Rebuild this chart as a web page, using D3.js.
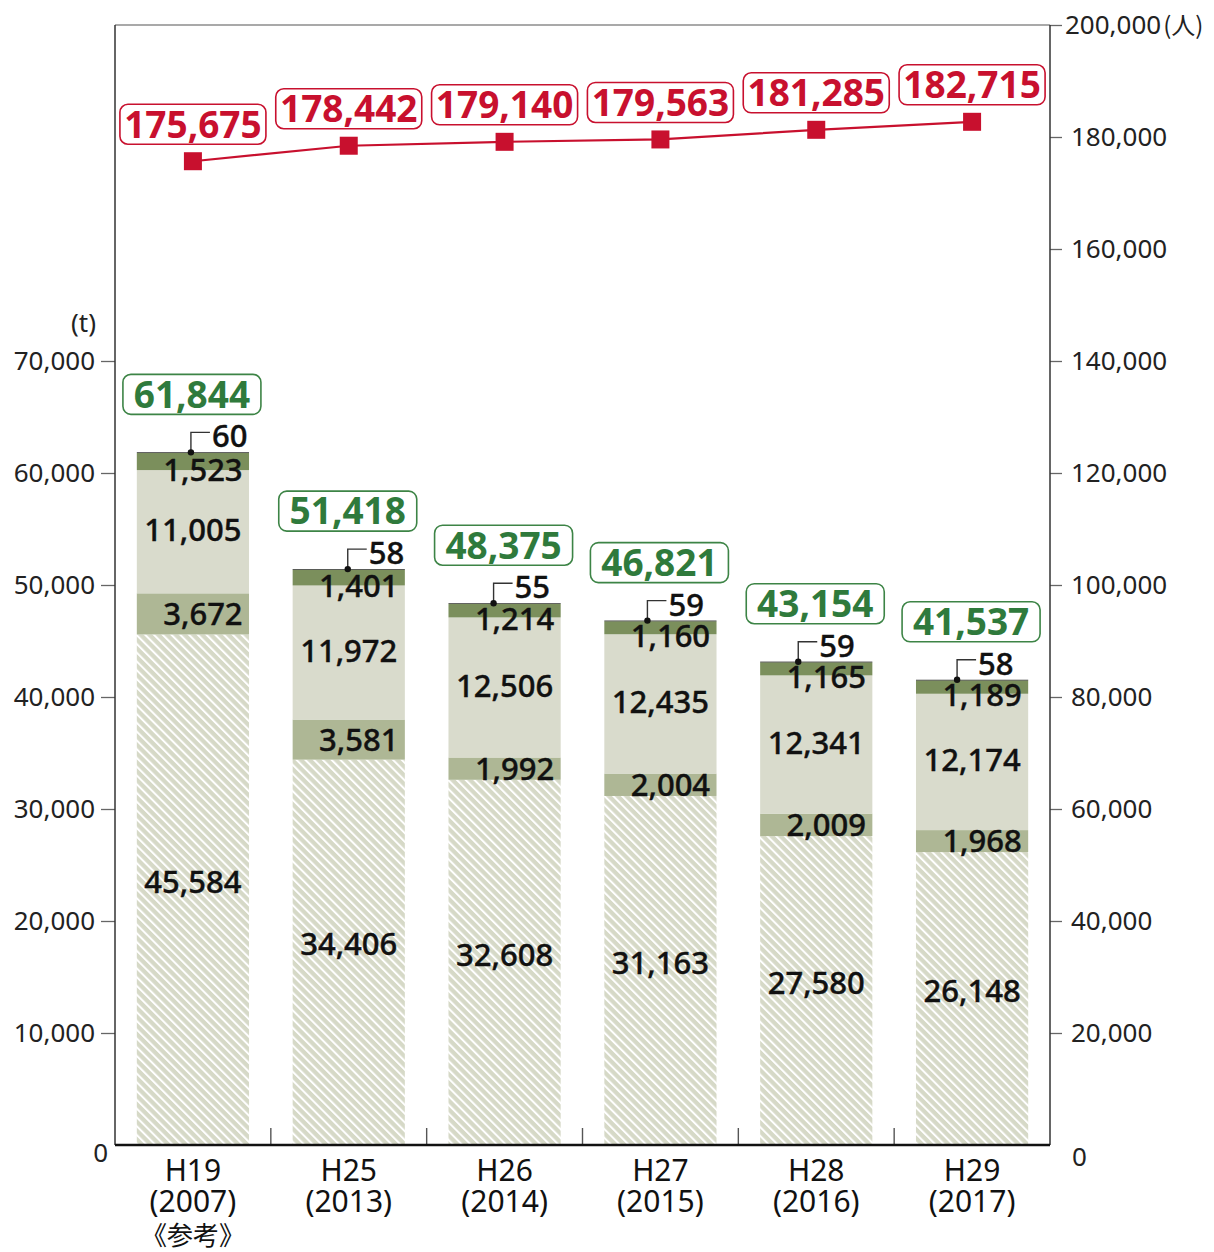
<!DOCTYPE html>
<html><head><meta charset="utf-8">
<script src="https://cdn.jsdelivr.net/npm/d3@7"></script>
<style>
html,body{margin:0;padding:0;background:#fff;}
svg{display:block;}
</style></head>
<body>
<script>
const categories = ["H19", "H25", "H26", "H27", "H28", "H29"];
const yearLabels = ["(2007)", "(2013)", "(2014)", "(2015)", "(2016)", "(2017)"];
const noteLabels = ["《参考》", "", "", "", "", ""];
const segment1 = [45584, 34406, 32608, 31163, 27580, 26148]; // hatched
const segment2 = [3672, 3581, 1992, 2004, 2009, 1968];
const segment3 = [11005, 11972, 12506, 12435, 12341, 12174];
const segment4 = [1523, 1401, 1214, 1160, 1165, 1189];
const segment5 = [60, 58, 55, 59, 59, 58];
const totals = [61844, 51418, 48375, 46821, 43154, 41537];
const people = [175675, 178442, 179140, 179563, 181285, 182715];
const leftTicks = [0, 10000, 20000, 30000, 40000, 50000, 60000, 70000];
const rightTicks = [0, 20000, 40000, 60000, 80000, 100000, 120000, 140000, 160000, 180000, 200000];

// layout-only: horizontal shift of the leader dot for the thin top segment
const leaderShift = [-2, -1, -11, -13, -18, -15];

const W = 1214, H = 1252;
const L = 115, R = 1050, T = 25, B = 1145;
const svg = d3.select("body").append("svg").attr("width", W).attr("height", H);

const FONT = "'Noto Sans', 'Noto Sans CJK JP', sans-serif";
const x = d3.scaleBand().domain(categories).range([L, R]).paddingInner(0.28).paddingOuter(0.14);
const yL = d3.scaleLinear().domain([0, 100000]).range([B, T]);
const yR = d3.scaleLinear().domain([0, 200000]).range([B, T]);
const fmt = d3.format(",");

// pattern
const defs = svg.append("defs");
const pat = defs.append("pattern").attr("id", "hatch").attr("patternUnits", "userSpaceOnUse")
  .attr("width", 6.2).attr("height", 6.2).attr("patternTransform", "rotate(-45)");
pat.append("rect").attr("width", 6.2).attr("height", 6.2).attr("fill", "#d6d9c7");
pat.append("rect").attr("x", 0).attr("y", 0).attr("width", 2).attr("height", 6.2).attr("fill", "#ffffff");

const colors = ["url(#hatch)", "#aeb795", "#d9dbcc", "#7b8f5c", "#111111"];
const seriesKeys = ["s1", "s2", "s3", "s4", "s5"];
const rows = categories.map((c, i) => ({cat: c, s1: segment1[i], s2: segment2[i], s3: segment3[i], s4: segment4[i], s5: segment5[i]}));
const stack = d3.stack().keys(seriesKeys)(rows);

// frame
svg.append("line").attr("x1", L).attr("x2", R).attr("y1", T).attr("y2", T).attr("stroke", "#555").attr("stroke-width", 1.2);

// bars
stack.forEach((layer, li) => {
  svg.append("g").selectAll("rect").data(layer).join("rect")
    .attr("x", d => x(d.data.cat))
    .attr("width", x.bandwidth())
    .attr("y", d => yL(d[1]))
    .attr("height", d => yL(d[0]) - yL(d[1]))
    .attr("fill", colors[li]);
});

// axes
const axL = svg.append("g").attr("transform", `translate(${L},0)`)
  .call(d3.axisLeft(yL).tickValues(leftTicks).tickSize(14).tickPadding(6).tickFormat(fmt));
axL.select(".domain").remove();
axL.selectAll(".tick line").attr("stroke", "#666").attr("stroke-width", 1.3);
axL.selectAll(".tick text").attr("font-family", FONT).attr("font-size", 26).attr("fill", "#222");
axL.selectAll(".tick").filter(d => d === 0).select("line").remove();
axL.selectAll(".tick").filter(d => d === 0).select("text").attr("x", -7).attr("dy", "0.62em");

const axR = svg.append("g").attr("transform", `translate(${R},0)`)
  .call(d3.axisRight(yR).tickValues(rightTicks).tickSize(12).tickPadding(9).tickFormat(fmt));
axR.select(".domain").remove();
axR.selectAll(".tick line").attr("stroke", "#666").attr("stroke-width", 1.3);
axR.selectAll(".tick text").attr("font-family", FONT).attr("font-size", 26).attr("fill", "#222");
axR.selectAll(".tick").filter(d => d === 0).select("line").remove();
axR.selectAll(".tick").filter(d => d === 0).select("text").attr("x", 22).attr("dy", "0.78em");
const topTick = axR.selectAll(".tick").filter(d => d === 200000).select("text").attr("x", 15);
topTick.append("tspan").attr("font-family", "'Noto Sans CJK JP', sans-serif").attr("font-size", 24).attr("dx", 2).text("(人)");

svg.append("line").attr("x1", L).attr("x2", L).attr("y1", T).attr("y2", B).attr("stroke", "#333").attr("stroke-width", 1.5);
svg.append("line").attr("x1", R).attr("x2", R).attr("y1", T).attr("y2", B).attr("stroke", "#333").attr("stroke-width", 1.5);

svg.append("text").attr("x", 96).attr("y", 323).attr("dy", "0.35em").attr("text-anchor", "end")
  .attr("font-family", FONT).attr("font-size", 26).attr("fill", "#222").text("(t)");

// category ticks
const step = x.step();
for (let i = 1; i < categories.length; i++) {
  const xx = L + i * step;
  svg.append("line").attr("x1", xx).attr("x2", xx).attr("y1", B - 17).attr("y2", B).attr("stroke", "#555").attr("stroke-width", 1.4);
}
svg.append("line").attr("x1", L).attr("x2", R).attr("y1", B).attr("y2", B).attr("stroke", "#111").attr("stroke-width", 2.5);

// x labels
const xl = svg.append("g").selectAll("g").data(categories).join("g")
  .attr("transform", d => `translate(${x(d) + x.bandwidth() / 2},0)`);
xl.append("text").attr("y", 1170).attr("dy", "0.35em").attr("text-anchor", "middle")
  .attr("font-family", FONT).attr("font-size", 30).attr("fill", "#111").text(d => d);
xl.append("text").attr("y", 1201).attr("dy", "0.35em").attr("text-anchor", "middle")
  .attr("font-family", FONT).attr("font-size", 30).attr("fill", "#111").text((d, i) => yearLabels[i]);
xl.append("text").attr("y", 1236).attr("dy", "0.35em").attr("text-anchor", "middle")
  .attr("font-family", "'Noto Sans CJK JP', sans-serif").attr("font-size", 26).attr("fill", "#111").text((d, i) => noteLabels[i]);

// segment labels
const labelLayers = [0, 1, 2, 3];
const offsetsY = [-8, 0, -2, 8];
const offsetsX = [0, 10, 0, 10];
labelLayers.forEach(li => {
  svg.append("g").selectAll("text").data(stack[li]).join("text")
    .attr("x", d => x(d.data.cat) + x.bandwidth() / 2 + offsetsX[li])
    .attr("y", d => (yL(d[0]) + yL(d[1])) / 2 + offsetsY[li])
    .attr("dy", "0.36em").attr("text-anchor", "middle")
    .attr("font-family", FONT).attr("font-size", 31).attr("font-weight", 500)
    .attr("fill", "#111").attr("stroke", "#111").attr("stroke-width", 0.4)
    .text(d => fmt(d[1] - d[0]));
});

// top small-segment leader
stack[4].forEach((d, i) => {
  const cx = x(d.data.cat) + x.bandwidth() / 2 + leaderShift[i];
  const ty = yL(d[1]);
  const g = svg.append("g");
  g.append("path").attr("d", `M${cx},${ty} V${ty - 20} H${cx + 19}`).attr("fill", "none").attr("stroke", "#333").attr("stroke-width", 1.4);
  g.append("circle").attr("cx", cx).attr("cy", ty).attr("r", 3.2).attr("fill", "#111");
  g.append("text").attr("x", cx + 21).attr("y", ty - 5)
    .attr("font-family", FONT).attr("font-size", 31).attr("font-weight", 500)
    .attr("fill", "#111").attr("stroke", "#111").attr("stroke-width", 0.4)
    .text(fmt(d[1] - d[0]));
});

// totals
const green = "#2f7a3c";
categories.forEach((c, i) => {
  const cx = x(c) + x.bandwidth() / 2 - 1;
  const cy = yL(totals[i]) - 58;
  svg.append("rect").attr("x", cx - 69).attr("y", cy - 20).attr("width", 138).attr("height", 40).attr("rx", 8)
    .attr("fill", "#fff").attr("stroke", "#3d8446").attr("stroke-width", 1.6);
  svg.append("text").attr("x", cx).attr("y", cy).attr("dy", "0.36em").attr("text-anchor", "middle")
    .attr("font-family", FONT).attr("font-size", 37).attr("font-weight", 700).attr("fill", green)
    .text(fmt(totals[i]));
});

// people line
const red = "#c8102e";
const line = d3.line().x((d, i) => x(categories[i]) + x.bandwidth() / 2).y(d => yR(d));
svg.append("path").datum(people).attr("d", line).attr("fill", "none").attr("stroke", red).attr("stroke-width", 2.2);
svg.append("g").selectAll("rect").data(people).join("rect")
  .attr("x", (d, i) => x(categories[i]) + x.bandwidth() / 2 - 9)
  .attr("y", d => yR(d) - 9).attr("width", 18).attr("height", 18).attr("fill", red);
people.forEach((p, i) => {
  const cx = x(categories[i]) + x.bandwidth() / 2;
  const cy = yR(p) - 37;
  svg.append("rect").attr("x", cx - 73).attr("y", cy - 20).attr("width", 146).attr("height", 40).attr("rx", 8)
    .attr("fill", "#fff").attr("stroke", red).attr("stroke-width", 1.6);
  svg.append("text").attr("x", cx).attr("y", cy).attr("dy", "0.36em").attr("text-anchor", "middle")
    .attr("font-family", FONT).attr("font-size", 37).attr("font-weight", 700).attr("fill", red)
    .text(fmt(p));
});
</script>
</body></html>
